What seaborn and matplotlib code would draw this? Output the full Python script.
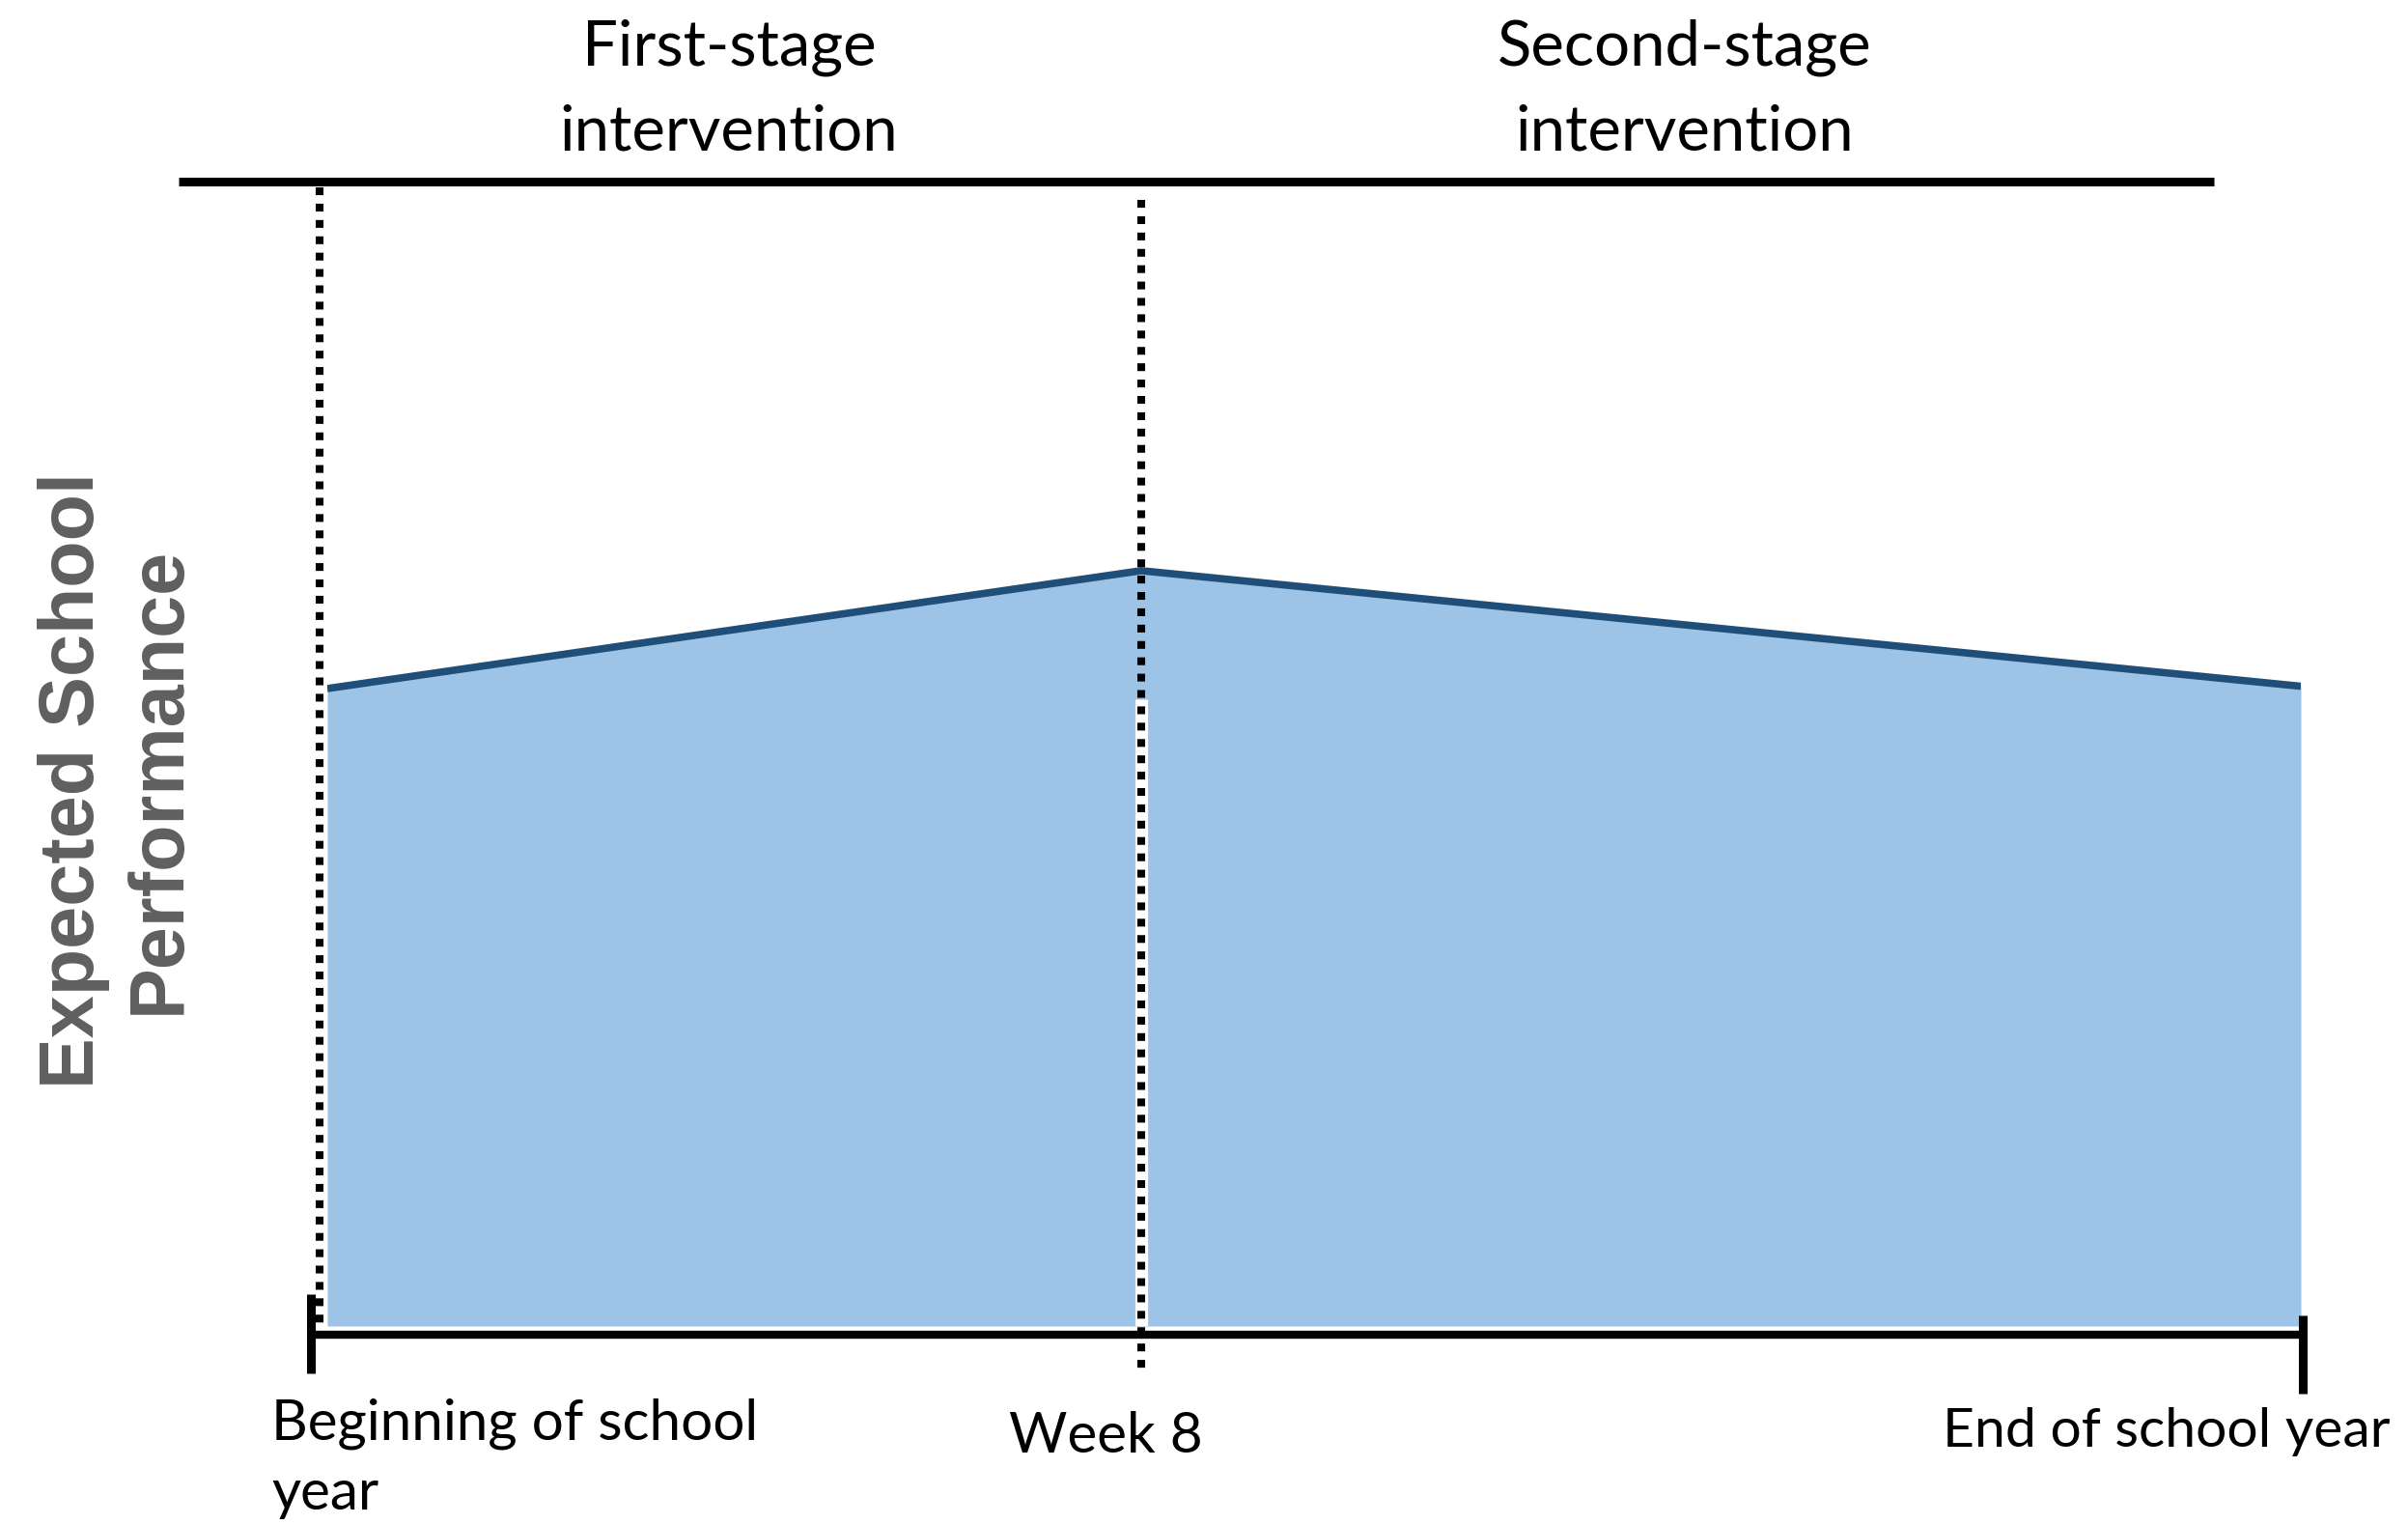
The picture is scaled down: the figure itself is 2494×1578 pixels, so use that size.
import numpy as np
import pandas as pd
import matplotlib
matplotlib.use("Agg")
import matplotlib.pyplot as plt
import seaborn as sns

# ------------------------------------------------------------------
# Dados (esquema: posição no ano letivo x desempenho esperado)
# ------------------------------------------------------------------
time_pos = [0.0, 8.0, 19.4]          # início, semana 8, fim do ano
performance = [55.7, 66.0, 55.9]     # desempenho esperado (escala 0-100)
tick_labels = ["Beginning of school\nyear", "Week 8", "End of school year"]
stage_labels = ["First-stage\nintervention", "Second-stage\nintervention"]
y_label = "Expected School\nPerformance"

df = pd.DataFrame({"time": time_pos, "performance": performance})

fill_color = "#9DC3E6"
line_color = "#1F4E79"

sns.set_theme(style="white")
plt.rcParams["font.family"] = ["Lato", "DejaVu Sans"]

W, H = 2494, 1578
fig = plt.figure(figsize=(W / 100, H / 100), dpi=100)
ax = fig.add_axes([339 / W, 1 - 1373 / H, 2044 / W, 1185 / H])
ax.set_xlim(0, 19.4)
ax.set_ylim(0, 100)
ax.axis("off")

# Área preenchida + linha superior
ax.fill_between(df["time"], 0, df["performance"], color=fill_color, lw=0, zorder=1)
sns.lineplot(data=df, x="time", y="performance", ax=ax, color=line_color,
             linewidth=5.5, zorder=3, solid_capstyle="butt")

# faixa branca na semana 8 (separação das duas áreas)
ax.plot([8, 8], [0, 54.8], color="white", lw=9.5, zorder=2, solid_capstyle="butt")

# Linha horizontal superior (estágios)
ax.plot([-1.46, 18.55], [100, 100], color="black", lw=6.5, clip_on=False,
        solid_capstyle="butt", zorder=4)

# Linhas pontilhadas verticais
dot = (0, (1, 1.1))
ax.plot([-0.08, -0.08], [99.5, -0.6], color="black", lw=5.8, ls=dot,
        clip_on=False, dash_capstyle="butt", zorder=4)
ax.plot([8, 8], [98.4, -4.0], color="black", lw=5.8, ls=dot,
        clip_on=False, dash_capstyle="butt", zorder=4)

# Eixo do tempo
ax.plot([-0.16, 19.42], [-0.76, -0.76], color="black", lw=6, clip_on=False,
        solid_capstyle="butt", zorder=4)
ax.plot([-0.16, -0.16], [2.8, -4.1], color="black", lw=6.5, clip_on=False,
        solid_capstyle="butt", zorder=4)
ax.plot([19.42, 19.42], [0.93, -5.9], color="black", lw=6.5, clip_on=False,
        solid_capstyle="butt", zorder=4)

# Rótulos dos estágios
fig.text(755 / W, 1 - 93 / H, stage_labels[0], ha="center", va="center",
         fontsize=47, linespacing=1.58, color="black")
fig.text(1745 / W, 1 - 93 / H, stage_labels[1], ha="center", va="center",
         fontsize=47, linespacing=1.58, color="black")

# Rótulos do eixo do tempo
fig.text(281 / W, 1 - 1510 / H, tick_labels[0], ha="left", va="center",
         fontsize=42, linespacing=1.45, color="black")
fig.text(1145 / W, 1 - 1487 / H, tick_labels[1], ha="center", va="center",
         fontsize=42, color="black")
fig.text(2244 / W, 1 - 1482 / H, tick_labels[2], ha="center", va="center",
         fontsize=41, color="black")

# Rótulo do eixo y
fig.text(121 / W, 1 - 808 / H, y_label, rotation=90, ha="center", va="center",
         multialignment="center", fontsize=57, fontweight="bold",
         color="#5F5F5F", linespacing=1.24,
         family=["Liberation Sans", "DejaVu Sans"])

fig.savefig("out.png", dpi=100)
